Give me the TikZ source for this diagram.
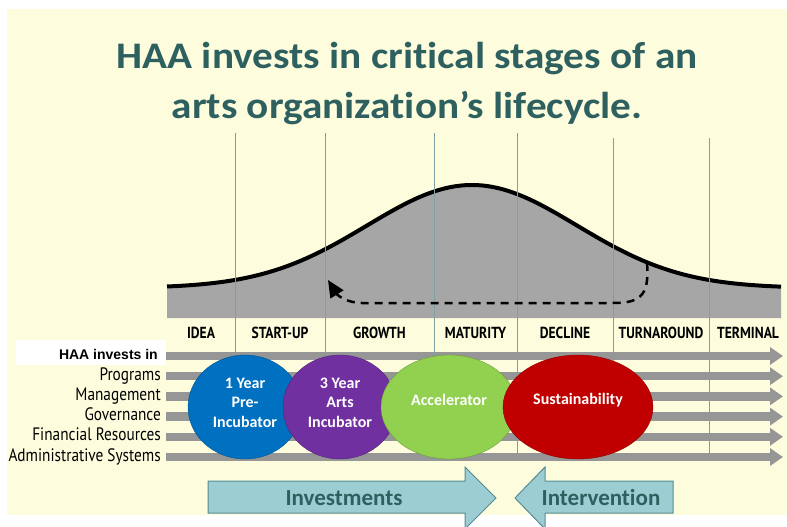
\documentclass[tikz,border=0pt]{standalone}
\usepackage{fontspec}
\setmainfont[Ligatures=NoCommon]{Carlito}
\newfontfamily\titlefont[FakeStretch=1.1, Ligatures=NoCommon]{Carlito}
\newfontfamily\condfont[FakeStretch=0.85]{PT Sans}
\newfontfamily\arialfont{Liberation Sans}
\usetikzlibrary{arrows.meta,shapes.geometric}

\definecolor{cream}{RGB}{253,253,222}
\definecolor{titleteal}{RGB}{46,96,96}
\definecolor{curvegray}{RGB}{166,166,166}
\definecolor{bargray}{RGB}{150,150,150}
\definecolor{stageline}{RGB}{125,160,160}
\definecolor{haablue}{RGB}{0,112,192}
\definecolor{haapurple}{RGB}{112,48,160}
\definecolor{haagreen}{RGB}{146,208,80}
\definecolor{haared}{RGB}{192,0,0}
\definecolor{arrowfill}{RGB}{155,205,210}
\definecolor{arrowedge}{RGB}{85,140,150}

% lift a label inside its ellipse without changing the box size
\newcommand{\lift}[2]{\raisebox{#1}[\height][\depth]{#2}}
\newcommand{\stack}[1]{\begin{tabular}{@{}c@{}}#1\end{tabular}}

\begin{document}
\begin{tikzpicture}[x=1pt, y=-1pt,
    stage/.style={font=\condfont\bfseries\fontsize{16}{16}\selectfont, inner sep=0pt},
    rowlabel/.style={anchor=east, inner sep=0pt, text height=12pt, text depth=4pt,
        font=\condfont\fontsize{18}{18}\selectfont},
    bar/.style={bargray, line width=8.5pt, -{Triangle[length=13pt, width=17pt]}},
    program/.style={ellipse, draw=#1!75!black, fill=#1, text=white,
        inner sep=0pt, font=\bfseries\fontsize{16}{19.5}\selectfont},
    bigarrow/.style={draw=arrowedge, fill=arrowfill, line width=1pt},
    arrowtext/.style={text=titleteal, font=\bfseries\fontsize{23}{23}\selectfont},
    titleline/.style={anchor=base, text=titleteal, font=\titlefont\bfseries\fontsize{37.5}{37.5}\selectfont}]

    % page and cream panel
    \useasboundingbox (0,0) rectangle (787,527);
    \fill[white] (0,0) rectangle (787,527);
    \fill[cream] (7,9) rectangle (787,515);

    % title
    \node[titleline] (title1) at (407,68) {HAA invests in critical stages of an};
    \node[titleline] (title2) at (407,118) {arts organization’s lifecycle.};

    % lifecycle curve
    \fill[curvegray] (167,318) -- plot[domain=167:781, samples=120]
        (\x, {288-103*exp(-((\x-472)/105)*((\x-472)/105)/2)}) -- (781,318) -- cycle;
    \draw[line width=4pt] plot[domain=167:781, samples=120]
        (\x, {288-103*exp(-((\x-472)/105)*((\x-472)/105)/2)});

    % investment rows
    \fill[white] (16,340) rectangle (166,365);
    \node[anchor=east, inner sep=0pt, font=\arialfont\bfseries\fontsize{14}{14}\selectfont]
        (haa) at (158,354) {HAA invests in};
    \coordinate (b0) at (166,356);
    \coordinate (e0) at (783,356);
    \draw[bar] (b0) -- (e0);
    \foreach \lab [count=\i] in {Programs, Management, Governance,
            Financial Resources, Administrative Systems} {
        \node[rowlabel] (row\i) at (161,356+20.2*\i) {\lab};
        \coordinate (b\i) at (166,356+20.2*\i);
        \coordinate (e\i) at (783,356+20.2*\i);
        \draw[bar] (b\i) -- (e\i);
    }

    % stage dividers
    \foreach \x/\top in {235/133, 325/133, 434/133, 517/133, 613/138, 709/138}
        \draw[stageline, line width=0.8pt] (\x,\top) -- (\x,461);

    % stage names
    \foreach \x/\name [count=\i] in {201/IDEA, 280/START-UP, 379.5/GROWTH,
            475.5/MATURITY, 565/DECLINE, 661/TURNAROUND, 748/TERMINAL}
        \node[stage] (stage\i) at (\x,333) {\name};

    % turnaround loop
    \coordinate (loopstart) at (647,263);
    \coordinate (loopend) at (328,280);
    \draw[line width=2.5pt, dash pattern=on 8pt off 6pt,
        -{Triangle[length=17pt, width=15pt]}]
        (loopstart) .. controls (650,298) and (638,303) .. (612,303)
        -- (362,303) .. controls (348,303) and (338,296) .. (loopend);

    % programs
    \node[program=haablue, minimum width=114pt, minimum height=104pt]
        (pre) at (245,407) {\lift{3pt}{\stack{1 Year\\Pre-\\Incubator}}};
    \node[program=haapurple, minimum width=114pt, minimum height=104pt]
        (incub) at (340,407) {\lift{3pt}{\stack{3 Year\\Arts\\Incubator}}};
    \node[program=haagreen, minimum width=136pt, minimum height=104pt]
        (accel) at (449,407) {\lift{7pt}{Accelerator}};
    \node[program=haared, minimum width=150pt, minimum height=104pt]
        (sustain) at (578,407) {\lift{7pt}{Sustainability}};

    % investments / intervention
    \draw[bigarrow] (208,481) -- (465,481) -- (465,467) -- (496,498)
        -- (465,529) -- (465,513) -- (208,513) -- cycle;
    \node[arrowtext] (invest) at (344,498) {Investments};
    \draw[bigarrow] (673,481) -- (545,481) -- (545,467) -- (515,498)
        -- (545,529) -- (545,513) -- (673,513) -- cycle;
    \node[arrowtext] (interv) at (601,498) {Intervention};

\end{tikzpicture}
\end{document}
